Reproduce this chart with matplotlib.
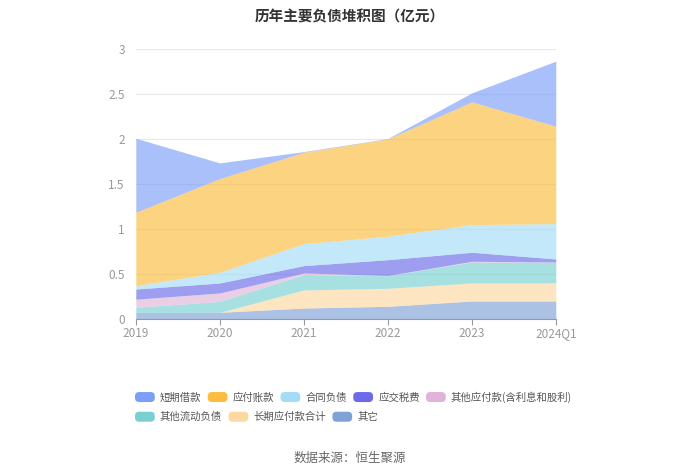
import matplotlib.pyplot as plt
from matplotlib.patches import FancyBboxPatch
from matplotlib.legend_handler import HandlerPatch

plt.rcParams['font.family'] = ['Noto Sans CJK SC', 'DejaVu Sans']

anos = ["2019", "2020", "2021", "2022", "2023", "2024Q1"]

# valores em 亿元 (de baixo para cima)
qita = [0.074, 0.074, 0.122, 0.141, 0.200, 0.200]
changqi_yingfu = [0.0, 0.0, 0.200, 0.200, 0.200, 0.200]
qita_liudong = [0.056, 0.122, 0.171, 0.140, 0.233, 0.230]
qita_yingfu = [0.090, 0.093, 0.018, 0.002, 0.008, 0.003]
yingjiao_shuifei = [0.113, 0.111, 0.082, 0.176, 0.100, 0.034]
hetong_fuzhai = [0.037, 0.119, 0.244, 0.260, 0.307, 0.392]
yingfu_zhangkuan = [0.815, 1.040, 1.015, 1.081, 1.363, 1.082]
duanqi_jiekuan = [0.822, 0.174, 0.007, 0.004, 0.100, 0.722]

series = [
    ("其它", qita, "#7ea2d6"),
    ("长期应付款合计", changqi_yingfu, "#fdd8a0"),
    ("其他流动负债", qita_liudong, "#78d0d0"),
    ("其他应付款(含利息和股利)", qita_yingfu, "#e0b4d8"),
    ("应交税费", yingjiao_shuifei, "#6b6be8"),
    ("合同负债", hetong_fuzhai, "#a3dcf6"),
    ("应付账款", yingfu_zhangkuan, "#fbbd3e"),
    ("短期借款", duanqi_jiekuan, "#7b9ef8"),
]

fig = plt.figure(figsize=(7, 4.74), dpi=100)
ax = fig.add_axes([0.194, 0.327, 0.6, 0.57])

x = list(range(len(anos)))
base = [0.0] * len(anos)
handles = {}
for nome, vals, cor in series:
    topo = [b + v for b, v in zip(base, vals)]
    ax.fill_between(x, base, topo, color=cor, alpha=0.65, linewidth=0)
    handles[nome] = plt.Rectangle((0, 0), 1, 1, color=cor)
    base = topo

ax.set_xlim(0, len(anos) - 1)
ax.set_ylim(0, 3)
ax.set_yticks([0, 0.5, 1, 1.5, 2, 2.5, 3])
ax.set_yticklabels(["0", "0.5", "1", "1.5", "2", "2.5", "3"])
ax.set_xticks(x)
ax.set_xticklabels(anos)
ax.grid(axis="y", color="#e8e8e8", linewidth=0.8)
ax.set_axisbelow(True)
for s in ["top", "right", "left"]:
    ax.spines[s].set_visible(False)
ax.spines["bottom"].set_color("#999999")
ax.tick_params(axis="y", length=0, colors="#999999", labelsize=8.5, pad=8)
ax.tick_params(axis="x", length=4, color="#999999", labelcolor="#999999", labelsize=8.5, pad=2)

fig.text(0.5, 0.965, "历年主要负债堆积图（亿元）", ha="center", va="center",
         fontsize=10.5, fontweight="bold", color="#333333")
fig.text(0.5, 0.033, "数据来源：恒生聚源", ha="center", va="center",
         fontsize=9, color="#666666")


class RoundHandler(HandlerPatch):
    def create_artists(self, legend, orig, xd, yd, w, h, fontsize, trans):
        p = FancyBboxPatch((-xd, -yd), w, h, boxstyle="round,pad=0,rounding_size=3",
                           facecolor=orig.get_facecolor(), edgecolor="none", transform=trans)
        return [p]


ordem = [s[0] for s in series][::-1]
linha1 = ordem[:5]
linha2 = ordem[5:]
kw = dict(frameon=False, fontsize=7.5, labelcolor="#555555", handlelength=1.9,
          handleheight=1.1, handletextpad=0.5, columnspacing=0.6, borderpad=0,
          borderaxespad=0, handler_map={plt.Rectangle: RoundHandler()})
fig.legend([handles[n] for n in linha1], linha1, ncol=5, loc="center left",
           bbox_to_anchor=(135 / 700, 1 - 397 / 474), **kw)
fig.legend([handles[n] for n in linha2], linha2, ncol=3, loc="center left",
           bbox_to_anchor=(135 / 700, 1 - 417 / 474), **kw)

fig.savefig("out.png", dpi=100)
